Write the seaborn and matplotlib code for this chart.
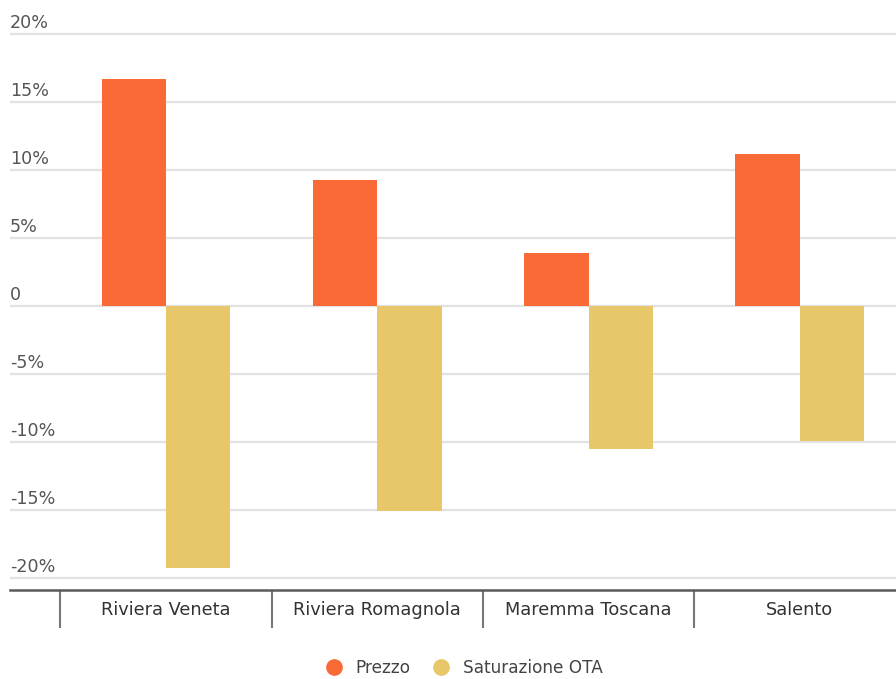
import matplotlib
matplotlib.use("Agg")
import matplotlib.pyplot as plt
import seaborn as sns
import pandas as pd
from matplotlib.lines import Line2D

categories = ["Riviera Veneta", "Riviera Romagnola", "Maremma Toscana", "Salento"]
prezzo = [16.7, 9.3, 3.9, 11.2]
saturazione = [-19.3, -15.1, -10.5, -9.9]
series_names = ["Prezzo", "Saturazione OTA"]
colors = ["#FA6A37", "#E8C66A"]
ytick_values = [20, 15, 10, 5, 0, -5, -10, -15, -20]
ytick_labels = ["20%", "15%", "10%", "5%", "0", "-5%", "-10%", "-15%", "-20%"]

df = pd.DataFrame({
    "Area": categories * 2,
    "Serie": [series_names[0]] * len(categories) + [series_names[1]] * len(categories),
    "Valore": prezzo + saturazione,
})

sns.set_theme(style="white")
plt.rcParams["font.family"] = ["DejaVu Sans"]

W, H = 896, 679
fig = plt.figure(figsize=(W / 100, H / 100), dpi=100)
ax_left, ax_right, ax_top, ax_bottom = 10, 896, 10, 590
ax = fig.add_axes([ax_left / W, 1 - ax_bottom / H, (ax_right - ax_left) / W, (ax_bottom - ax_top) / H])

sns.barplot(data=df, x="Area", y="Valore", hue="Serie", hue_order=series_names,
            palette=colors, width=0.61, saturation=1, ax=ax, legend=False, errorbar=None,
            linewidth=0)

# gridlines
ax.set_yticks(ytick_values)
ax.yaxis.grid(True, color="#E2E2E2", linewidth=1.6)
ax.set_axisbelow(True)
ax.tick_params(axis="y", length=0, labelleft=False)
for v, lab in zip(ytick_values, ytick_labels):
    ax.annotate(lab, xy=(0, v), xycoords=("axes fraction", "data"),
                xytext=(0, 4.5), textcoords="offset points",
                ha="left", va="baseline", fontsize=12.6, color="#555555")

# x axis
for s in ["left", "top", "right"]:
    ax.spines[s].set_visible(False)
ax.spines["bottom"].set_color("#5A5A5A")
ax.spines["bottom"].set_linewidth(1.8)
ax.set_xticks(range(len(categories)))
ax.set_xticklabels(categories)
ax.set_xticks([i - 0.5 for i in range(len(categories))], minor=True)
ax.tick_params(axis="x", which="major", bottom=False, length=0, pad=8, labelsize=12.8,
               labelcolor="#333333")
ax.tick_params(axis="x", which="minor", bottom=True, length=27, width=1.5,
               color="#777777", direction="out")
ax.set_xlabel("")
ax.set_ylabel("")

# scales (set last so tick setting cannot expand them)
px_per_cat = 211.3
center0 = 166
x0 = (ax_left - center0) / px_per_cat
x1 = (ax_right - center0) / px_per_cat
ax.set_xlim(x0, x1)
px_per_unit = 13.6
zero_px = 306
ax.set_ylim((zero_px - ax_bottom) / px_per_unit, (zero_px - ax_top) / px_per_unit)

handles = [Line2D([0], [0], marker="o", linestyle="", markersize=11,
                  markerfacecolor=c, markeredgecolor=c) for c in colors]
fig.legend(handles, series_names, loc="center", bbox_to_anchor=(460 / W, 1 - 668 / H),
           ncol=2, frameon=False, fontsize=12.2, handletextpad=0.3, columnspacing=0.8,
           labelcolor="#444444")

fig.savefig("out.png", dpi=100)
